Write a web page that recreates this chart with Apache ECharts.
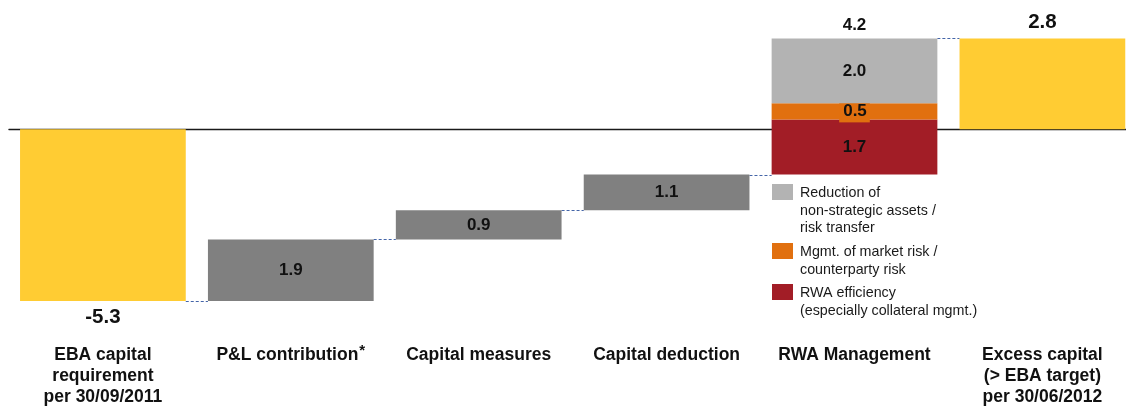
<!DOCTYPE html>
<html>
<head>
<meta charset="utf-8">
<script src="https://cdn.jsdelivr.net/npm/echarts@6/dist/echarts.min.js"></script>
<style>
  html, body { margin: 0; padding: 0; background: #ffffff; }
  #chart { width: 1126px; height: 406px; }
</style>
</head>
<body>
<div id="chart"></div>
<script>
// Capital bridge from the EBA requirement (30/09/2011) to excess capital (30/06/2012), EUR bn
const categories = [
  'EBA capital\nrequirement\nper 30/09/2011',
  'P&L contribution*',
  'Capital measures',
  'Capital deduction',
  'RWA Management',
  'Excess capital\n(> EBA target)\nper 30/06/2012'
];
const openingPosition = -5.3;          // EBA capital requirement
const stepValues = [1.9, 0.9, 1.1];    // P&L contribution, capital measures, capital deduction
const rwaParts = [
  'RWA efficiency\n(especially collateral mgmt.)',
  'Mgmt. of market risk /\ncounterparty risk',
  'Reduction of\nnon-strategic assets /\nrisk transfer'
];
const rwaValues = [1.7, 0.5, 2.0];     // stacked bottom to top
const rwaTotal = 4.2;
const closingPosition = 2.8;           // excess capital

const FONT = '"Liberation Sans", Arial, Helvetica, sans-serif';
const BAR_RATIO = 0.882;
const COLORS = {
  position: '#FFCC33',
  step: '#808080',
  rwa: ['#A21D26', '#E1700F', '#B3B3B3'],
  connector: '#4465A8',
  text: '#111111'
};

const r1 = v => Math.round(v * 10) / 10;

// ----- derived bar extents [categoryIndex, from, to] -----
const positionBars = [
  [0, 0, openingPosition],
  [5, 0, closingPosition]
];
const stepBars = [];
let level = openingPosition;
const levels = [level];
stepValues.forEach((v, i) => {
  stepBars.push([i + 1, level, r1(level + v)]);
  level = r1(level + v);
  levels.push(level);
});
const rwaBars = [];
let base = level;
rwaValues.forEach(v => {
  rwaBars.push([4, base, r1(base + v)]);
  base = r1(base + v);
});
levels.push(r1(level + rwaTotal));
// dashed connectors from bar i to bar i+1 at the running level
const connectors = levels.map((lv, i) => [i, lv]);

function barRect(api, from, to) {
  const x = api.value(0);
  const a = api.coord([x, from]);
  const b = api.coord([x, to]);
  const w = api.size([1, 0])[0] * BAR_RATIO;
  return { cx: a[0], x: a[0] - w / 2, y: Math.min(a[1], b[1]), width: w, height: Math.abs(a[1] - b[1]), top: Math.min(a[1], b[1]), bottom: Math.max(a[1], b[1]) };
}

function textEl(x, y, text, size, extra) {
  return {
    type: 'text',
    x: x, y: y,
    style: Object.assign({
      text: text,
      font: 'bold ' + size + 'px ' + FONT,
      fill: COLORS.text,
      align: 'center', verticalAlign: 'middle',
      textAlign: 'center', textVerticalAlign: 'middle'
    }, extra || {})
  };
}

function positionItem(params, api) {
  const from = api.value(1), to = api.value(2);
  const r = barRect(api, from, to);
  const label = to.toFixed(1);
  const ly = to < from ? r.bottom + 16.5 : r.top - 15.8;
  return {
    type: 'group',
    children: [
      { type: 'rect', shape: { x: r.x, y: r.y, width: r.width, height: r.height }, style: { fill: COLORS.position } },
      textEl(r.cx, ly, label, 20.5)
    ]
  };
}

function stepItem(params, api) {
  const from = api.value(1), to = api.value(2);
  const r = barRect(api, from, to);
  return {
    type: 'group',
    children: [
      { type: 'rect', shape: { x: r.x, y: r.y, width: r.width, height: r.height }, style: { fill: COLORS.step } },
      textEl(r.cx, (r.top + r.bottom) / 2, r1(to - from).toFixed(1), 17)
    ]
  };
}

function rwaItem(colorIdx) {
  return function (params, api) {
    const from = api.value(1), to = api.value(2);
    const r = barRect(api, from, to);
    const extra = colorIdx === 1 ? { backgroundColor: COLORS.rwa[1], padding: [3, 3, 2, 4] } : null;
    return {
      type: 'group',
      children: [
        { type: 'rect', shape: { x: r.x, y: r.y, width: r.width, height: r.height }, style: { fill: COLORS.rwa[colorIdx] } },
        textEl(r.cx, (r.top + r.bottom) / 2, r1(to - from).toFixed(1), 17, extra)
      ]
    };
  };
}

function totalItem(params, api) {
  const p = api.coord([api.value(0), api.value(1)]);
  return textEl(p[0], p[1] - 13.3, api.value(2).toFixed(1), 17);
}

function connectorItem(params, api) {
  const i = api.value(0);
  if (i >= categories.length - 1) return null;
  const p = api.coord([i, api.value(1)]);
  const band = api.size([1, 0])[0];
  const half = band * BAR_RATIO / 2;
  const y = Math.round(p[1]) + 0.5;
  return {
    type: 'line',
    shape: { x1: p[0] + half, y1: y, x2: p[0] + band - half, y2: y },
    style: { stroke: COLORS.connector, lineWidth: 1, lineDash: [3, 2] }
  };
}

// ----- legend for the RWA split -----
const legendTops = [184, 243, 284];
const legendOrder = [2, 1, 0];
const legendGraphics = [];
legendOrder.forEach((idx, k) => {
  legendGraphics.push({
    type: 'rect', left: 772, top: legendTops[k],
    shape: { width: 21, height: 16 },
    style: { fill: COLORS.rwa[idx] }
  });
  legendGraphics.push({
    type: 'text', left: 800, top: legendTops[k] + 0.6,
    style: { text: rwaParts[idx], font: '14.3px ' + FONT, fill: '#1a1a1a', lineHeight: 17.4 }
  });
});

const chart = echarts.init(document.getElementById('chart'), null, { renderer: 'canvas' });
chart.setOption({
  animation: false,
  backgroundColor: '#ffffff',
  grid: { left: 8.95, right: -10.35, top: 15.7, bottom: 82.2, containLabel: false, outerBoundsMode: 'none' },
  xAxis: [
    {
      type: 'category', data: categories, position: 'bottom',
      axisLine: { show: false, onZero: false }, axisTick: { show: false }, splitLine: { show: false },
      axisLabel: {
        interval: 0, margin: 21, color: COLORS.text,
        fontFamily: FONT, fontWeight: 'bold', fontSize: 17.5, lineHeight: 21,
        formatter: v => v.endsWith('*') ? v.slice(0, -1) + '{sup|*}' : v,
        rich: { sup: { fontFamily: FONT, fontWeight: 'bold', fontSize: 15, color: COLORS.text, padding: [0, 0, 9, 1] } }
      }
    },
    {
      type: 'category', data: categories, position: 'top',
      axisLine: { show: true, onZero: true, lineStyle: { color: '#1a1a1a', width: 1.3 } },
      axisTick: { show: false }, axisLabel: { show: false }, splitLine: { show: false }
    }
  ],
  yAxis: { type: 'value', min: -6, max: 3.5, show: false },
  graphic: legendGraphics,
  series: [
    { type: 'custom', name: 'Connectors', data: connectors, renderItem: connectorItem, z: 1 },
    { type: 'custom', name: 'Capital position', data: positionBars, renderItem: positionItem, z: 3 },
    { type: 'custom', name: 'Contributions', data: stepBars, renderItem: stepItem, z: 3 },
    { type: 'custom', name: rwaParts[0], data: [rwaBars[0]], renderItem: rwaItem(0), z: 3 },
    { type: 'custom', name: rwaParts[1], data: [rwaBars[1]], renderItem: rwaItem(1), z: 3 },
    { type: 'custom', name: rwaParts[2], data: [rwaBars[2]], renderItem: rwaItem(2), z: 4 },
    { type: 'custom', name: 'RWA total', data: [[4, levels[4], rwaTotal]], renderItem: totalItem, z: 5 }
  ]
});
</script>
</body>
</html>
